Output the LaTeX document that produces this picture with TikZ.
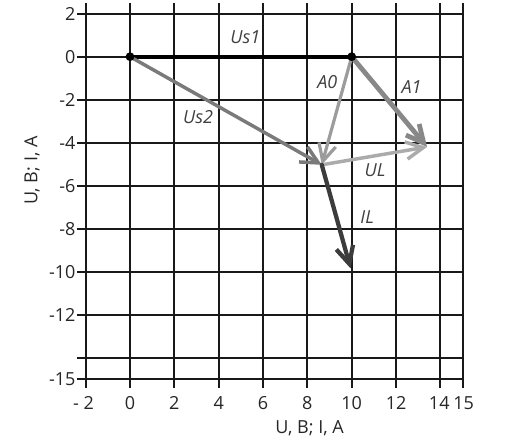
\documentclass[tikz,border=0pt]{standalone}
\usepackage{fontspec}
\setmainfont{Open Sans}
\usetikzlibrary{arrows.meta}
\definecolor{ustwo}{HTML}{7A7A7A}
\definecolor{azero}{HTML}{9C9C9C}
\definecolor{aone}{HTML}{888888}
\definecolor{ulgray}{HTML}{ABABAB}
\definecolor{ilgray}{HTML}{3C3C3C}
\tikzset{
  grid line/.style={line width=1.5pt, black!90},
  tick lbl/.style={font=\fontsize{13.5}{15}\selectfont, inner sep=0pt, text=black!85},
  vec lbl/.style={font=\fontsize{13.5}{15}\selectfont\itshape, text=black!75},
  vec/.style={-{Straight Barb[length=13pt,width=13pt]}, line cap=round}
}
\begin{document}
\begin{tikzpicture}[x=16.63pt, y=16.125pt]
  \useasboundingbox (-5.864,2.637) rectangle (17.862,-18.2);
  % grid and axes
  \foreach \gx in {-2,0,2,...,14,15}
    \draw[grid line] (\gx,2.5) -- (\gx,-15.4);
  \foreach \gy in {2,0,-2,...,-14,-15}
    \draw[grid line] (-2.4,\gy) -- (15,\gy);
  \foreach \gy in {2,0,-2,-4,-6,-8,-10,-12,-15}
    \node[tick lbl, anchor=east] at (-2.45,\gy) {\gy};
  \foreach \gx in {0,2,...,12}
    \node[tick lbl] at (\gx,-16.1) {\gx};
  \node[tick lbl] at (13.95,-16.1) {14};
  \node[tick lbl] at (15.05,-16.1) {15};
  \node[tick lbl] at (-2.1,-16.1) {- 2};
  \node[tick lbl] (xlab) at (8.1,-17.3) {U, B; I, A};
  \node[tick lbl, rotate=90] (ylab) at (-4.42,-5.3) {U, B; I, A};

  % vector points
  \coordinate (O) at (0,0);
  \coordinate (P) at (10,0);
  \coordinate (M) at (8.65,-5.03);
  \coordinate (Q) at (13.4,-4.2);
  \coordinate (R) at (9.95,-9.85);

  \draw[line width=3.2pt, black] (O) -- (P);
  \draw[vec, line width=2.6pt, ustwo] (O) -- (M);
  \draw[vec, line width=2.4pt, azero] (P) -- (M);
  \draw[vec, line width=3.6pt, aone] (P) -- (Q);
  \draw[vec, line width=2.6pt, ulgray] (M) -- (Q);
  \draw[vec, line width=3.2pt, ilgray] (M) -- (R);
  \fill (O) circle (3.3pt);
  \fill (P) circle (3.3pt);

  \node[vec lbl] (us1) at (5.2,0.92) {Us1};
  \node[vec lbl] (us2) at (3.07,-2.8) {Us2};
  \node[vec lbl] (a0) at (8.9,-1.2) {A0};
  \node[vec lbl] (a1) at (12.7,-1.4) {A1};
  \node[vec lbl] (ul) at (11.05,-5.3) {UL};
  \node[vec lbl] (il) at (10.7,-7.45) {IL};
\end{tikzpicture}
\end{document}
